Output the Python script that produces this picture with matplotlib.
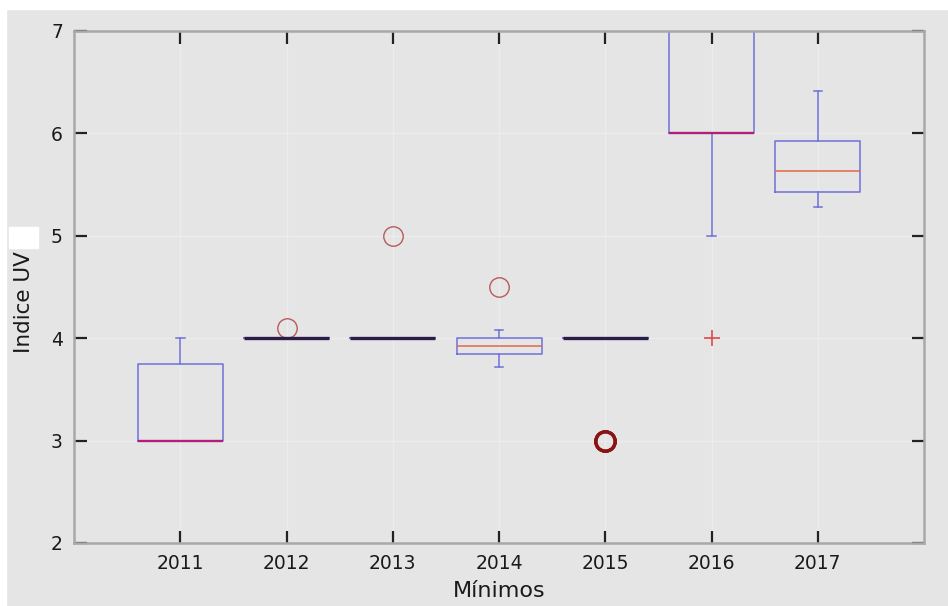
import matplotlib
matplotlib.use("Agg")
import matplotlib.pyplot as plt
from matplotlib.patches import Rectangle

# datos (indice UV minimo por año)
years = ['2011', '2012', '2013', '2014', '2015', '2016', '2017']
q1 = [3.0, 4.0, 4.0, 3.85, 4.0, 6.0, 5.43]
med = [3.0, 4.0, 4.0, 3.92, 4.0, 6.0, 5.63]
q3 = [3.75, 4.0, 4.0, 4.0, 4.0, 7.0, 5.93]
whislo = [3.0, 4.0, 4.0, 3.72, 4.0, 5.0, 5.28]
whishi = [4.0, 4.0, 4.0, 4.08, 4.0, 7.0, 6.41]
fliers = [[], [4.1], [5.0], [4.5], [3.0, 3.0, 3.0], [], []]
extremos = [[], [], [], [], [], [4.0], []]

bg = '#e5e5e5'
azul = '#7070da'
rojo = '#e0684e'

fig = plt.figure(figsize=(9.48, 6.06), dpi=100, facecolor=bg)
ax = fig.add_axes([74 / 948, 1 - 543 / 606, 850 / 948, 512 / 606])
ax.set_facecolor(bg)

stats = []
for i in range(len(years)):
    stats.append({'label': years[i], 'q1': q1[i], 'med': med[i], 'q3': q3[i],
                  'whislo': whislo[i], 'whishi': whishi[i], 'fliers': fliers[i]})

pos = list(range(1, len(years) + 1))
bp = ax.bxp(stats, positions=pos, widths=0.8, capwidths=0.08,
            boxprops=dict(color=azul, lw=1.1),
            whiskerprops=dict(color=azul, lw=1.1),
            capprops=dict(color=azul, lw=1.1),
            medianprops=dict(color=rojo, lw=1.1),
            flierprops=dict(marker='o', markersize=14, markerfacecolor='none',
                            markeredgecolor='#b85a5a', markeredgewidth=1.0))

# cajas degeneradas se ven oscuras en el original
for i in range(len(years)):
    if q1[i] == q3[i]:
        bp['medians'][i].set_color('#2c1c48')
        bp['medians'][i].set_linewidth(2.4)
    elif med[i] == q1[i] or med[i] == q3[i]:
        bp['medians'][i].set_color('#b0207a')
        bp['medians'][i].set_linewidth(1.7)
    if len(fliers[i]) > 1:
        bp['fliers'][i].set_markeredgecolor('#8a1414')
        bp['fliers'][i].set_markeredgewidth(2.3)

for i in range(len(years)):
    for v in extremos[i]:
        ax.plot(pos[i], v, '+', color='#e04848', markersize=12, mew=1.2)

ax.set_xlim(0, 8)
ax.set_ylim(2, 7)
ax.set_xticks(pos)
ax.set_xticklabels(years)
ax.set_yticks([2, 3, 4, 5, 6, 7])

ax.grid(True, color='#ececec', lw=1.0)
ax.set_axisbelow(True)
for s in ax.spines.values():
    s.set_color('#a8a8a8')
    s.set_linewidth(1.8)

ax.tick_params(direction='in', length=9, width=1.6, color='#222222',
               top=True, right=True, labelsize=13.5, labelcolor='#1a1a1a')
ax.tick_params(axis='x', pad=8)
ax.tick_params(axis='y', pad=8)

ax.set_xlabel('Mínimos', fontsize=16, color='#1a1a1a')
ax.set_ylabel('Indice UV', fontsize=15.5, color='#1a1a1a')
ax.xaxis.set_label_coords(0.5, -0.075)
ax.yaxis.set_label_coords(-0.047, 0.471)

# bordes blancos y recuadro blanco del original
fig.patches.append(Rectangle((0, 1 - 9 / 606), 1, 9 / 606, transform=fig.transFigure,
                             color='white', zorder=10))
fig.patches.append(Rectangle((0, 0), 6 / 948, 1, transform=fig.transFigure,
                             color='white', zorder=10))
fig.patches.append(Rectangle((9 / 948, 1 - 248 / 606), 29 / 948, 21 / 606,
                             transform=fig.transFigure, color='white', zorder=10))

fig.savefig('out.png', dpi=100, facecolor=bg)
